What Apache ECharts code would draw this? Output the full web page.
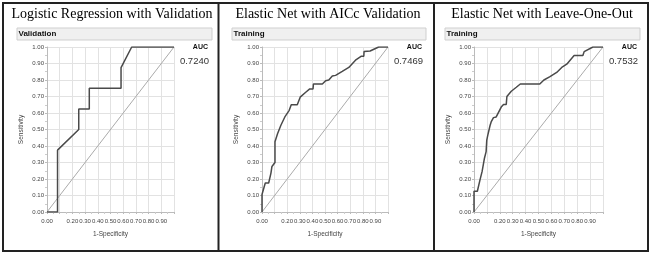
<!DOCTYPE html>
<html>
<head>
<meta charset="utf-8">
<script src="https://cdn.jsdelivr.net/npm/echarts@6/dist/echarts.min.js"></script>
<style>
  html, body { margin: 0; padding: 0; background: #fff; }
  #roc { width: 650px; height: 255px; }
</style>
</head>
<body>
<div id="roc"></div>
<script>
// three ROC panels side by side
var panelTitles = ['Logistic Regression with Validation', 'Elastic Net with AICc Validation', 'Elastic Net with Leave-One-Out'];
var headerNames = ['Validation', 'Training', 'Training'];
var aucValues = ['0.7240', '0.7469', '0.7532'];
var tickValues = [0, 0.1, 0.2, 0.3, 0.4, 0.5, 0.6, 0.7, 0.8, 0.9, 1];

// [1-specificity, sensitivity]
var rocLogistic = [
    [0, 0], [0.083, 0], [0.083, 0.375], [0.25, 0.5], [0.25, 0.625], [0.333, 0.625],
    [0.333, 0.75], [0.583, 0.75], [0.583, 0.875], [0.667, 1], [1, 1]
];
var rocAICc = [
    [0, 0], [0, 0.106], [0.026, 0.176], [0.053, 0.176], [0.071, 0.236], [0.079, 0.276],
    [0.103, 0.3], [0.103, 0.426], [0.124, 0.476], [0.15, 0.526], [0.184, 0.58],
    [0.216, 0.616], [0.232, 0.65], [0.28, 0.65], [0.303, 0.696], [0.347, 0.726],
    [0.379, 0.746], [0.405, 0.746], [0.408, 0.776], [0.479, 0.776], [0.505, 0.796],
    [0.53, 0.8], [0.558, 0.824], [0.584, 0.828], [0.637, 0.852], [0.689, 0.876],
    [0.742, 0.92], [0.789, 0.944], [0.808, 0.944], [0.81, 0.972], [0.858, 0.976],
    [0.926, 1], [1, 1]
];
var rocLOO = [
    [0, 0], [0, 0.126], [0.026, 0.126], [0.047, 0.196], [0.063, 0.246], [0.081, 0.326],
    [0.094, 0.366], [0.099, 0.436], [0.107, 0.466], [0.125, 0.526], [0.133, 0.546],
    [0.151, 0.572], [0.172, 0.576], [0.211, 0.636], [0.229, 0.652], [0.25, 0.652],
    [0.255, 0.7], [0.289, 0.732], [0.328, 0.756], [0.359, 0.776], [0.51, 0.776],
    [0.542, 0.8], [0.589, 0.82], [0.641, 0.846], [0.68, 0.876], [0.719, 0.896],
    [0.745, 0.92], [0.776, 0.948], [0.844, 0.948], [0.854, 0.972], [0.922, 1], [1, 1]
];
var rocCurves = [rocLogistic, rocAICc, rocLOO];
var diagonal = [[0, 0], [1, 1]];

var dom = document.getElementById('roc');
var myChart = echarts.init(dom, null, { renderer: 'canvas' });

var panels = [
    { grid: { left: 47, top: 47, width: 127, height: 165 }, bar: [17, 212], title: 112, aucRight: 209 },
    { grid: { left: 262, top: 47, width: 126, height: 165 }, bar: [232, 426], title: 328, aucRight: 423 },
    { grid: { left: 474, top: 47, width: 129, height: 165 }, bar: [445, 640], title: 542, aucRight: 638 }
];

var labelFont = { fontFamily: 'Liberation Sans', fontSize: 6, color: '#444' };

var grids = [], xAxes = [], yAxes = [], series = [], graphics = [];

panels.forEach(function (p, i) {
    grids.push({ left: p.grid.left, top: p.grid.top, width: p.grid.width, height: p.grid.height, show: false });
    xAxes.push({
        type: 'value', gridIndex: i, min: 0, max: 1, interval: 0.1,
        name: '1-Specificity', nameLocation: 'middle', nameGap: 19,
        nameTextStyle: { fontFamily: 'Liberation Sans', fontSize: 6.5, color: '#444' },
        axisLine: { show: true, lineStyle: { color: '#bbb' } },
        axisTick: { show: true, length: 2, lineStyle: { color: '#bbb' } },
        minorTick: { show: true, splitNumber: 2, length: 2, lineStyle: { color: '#ccc' } },
        splitLine: { show: true, lineStyle: { color: '#e2e2e2' } },
        axisLabel: Object.assign({
            margin: 6, showMaxLabel: true,
            formatter: function (v) {
                var t = tickValues.indexOf(Math.round(v * 10) / 10);
                if (t === 1 || t === 10) return '';
                return v.toFixed(2);
            }
        }, labelFont)
    });
    yAxes.push({
        type: 'value', gridIndex: i, min: 0, max: 1, interval: 0.1,
        name: 'Sensitivity', nameLocation: 'middle', nameGap: 22,
        nameTextStyle: { fontFamily: 'Liberation Sans', fontSize: 6.5, color: '#444' },
        axisLine: { show: true, lineStyle: { color: '#bbb' } },
        axisTick: { show: true, length: 2, lineStyle: { color: '#bbb' } },
        minorTick: { show: true, splitNumber: 2, length: 2, lineStyle: { color: '#ccc' } },
        splitLine: { show: true, lineStyle: { color: '#e2e2e2' } },
        axisLabel: Object.assign({
            margin: 3,
            formatter: function (v) { return v.toFixed(2); }
        }, labelFont)
    });
    series.push({
        type: 'line', xAxisIndex: i, yAxisIndex: i, data: diagonal,
        symbol: 'none', silent: true,
        lineStyle: { color: '#aaa', width: 1 }
    });
    series.push({
        type: 'line', xAxisIndex: i, yAxisIndex: i, data: rocCurves[i],
        symbol: 'none', silent: true,
        lineStyle: { color: '#4a4a4a', width: 1.5 }
    });

    // panel title
    graphics.push({
        type: 'text', x: p.title, y: 14,
        style: { text: panelTitles[i], fill: '#000', font: '14px "Liberation Serif"', textAlign: 'center', textVerticalAlign: 'middle' }
    });
    // header bar
    graphics.push({
        type: 'rect', shape: { x: p.bar[0], y: 28, width: p.bar[1] - p.bar[0], height: 12 },
        style: { fill: '#f0f0f0', stroke: '#cfcfcf', lineWidth: 1 }
    });
    graphics.push({
        type: 'text', x: p.bar[0] + 1.5, y: 34,
        style: { text: headerNames[i], fill: '#111', font: 'bold 8px "Liberation Sans"', textVerticalAlign: 'middle' }
    });
    // AUC
    graphics.push({
        type: 'text', x: p.aucRight - 1, y: 47,
        style: { text: 'AUC', fill: '#111', font: 'bold 7px "Liberation Sans"', textAlign: 'right', textVerticalAlign: 'middle' }
    });
    graphics.push({
        type: 'text', x: p.aucRight, y: 61.5,
        style: { text: aucValues[i], fill: '#333', font: '9.5px "Liberation Sans"', textAlign: 'right', textVerticalAlign: 'middle' }
    });
});

// panel frames
graphics.push({ type: 'rect', shape: { x: 3, y: 3, width: 645, height: 248 }, style: { fill: 'none', stroke: '#222', lineWidth: 2 } });
graphics.push({ type: 'line', shape: { x1: 218.5, y1: 3, x2: 218.5, y2: 251 }, style: { stroke: '#222', lineWidth: 2 } });
graphics.push({ type: 'line', shape: { x1: 434, y1: 3, x2: 434, y2: 251 }, style: { stroke: '#222', lineWidth: 2 } });

var option = {
    animation: false,
    backgroundColor: '#fff',
    grid: grids,
    xAxis: xAxes,
    yAxis: yAxes,
    series: series,
    graphic: graphics
};

if (option && typeof option === 'object') {
    myChart.setOption(option);
}
</script>
</body>
</html>
